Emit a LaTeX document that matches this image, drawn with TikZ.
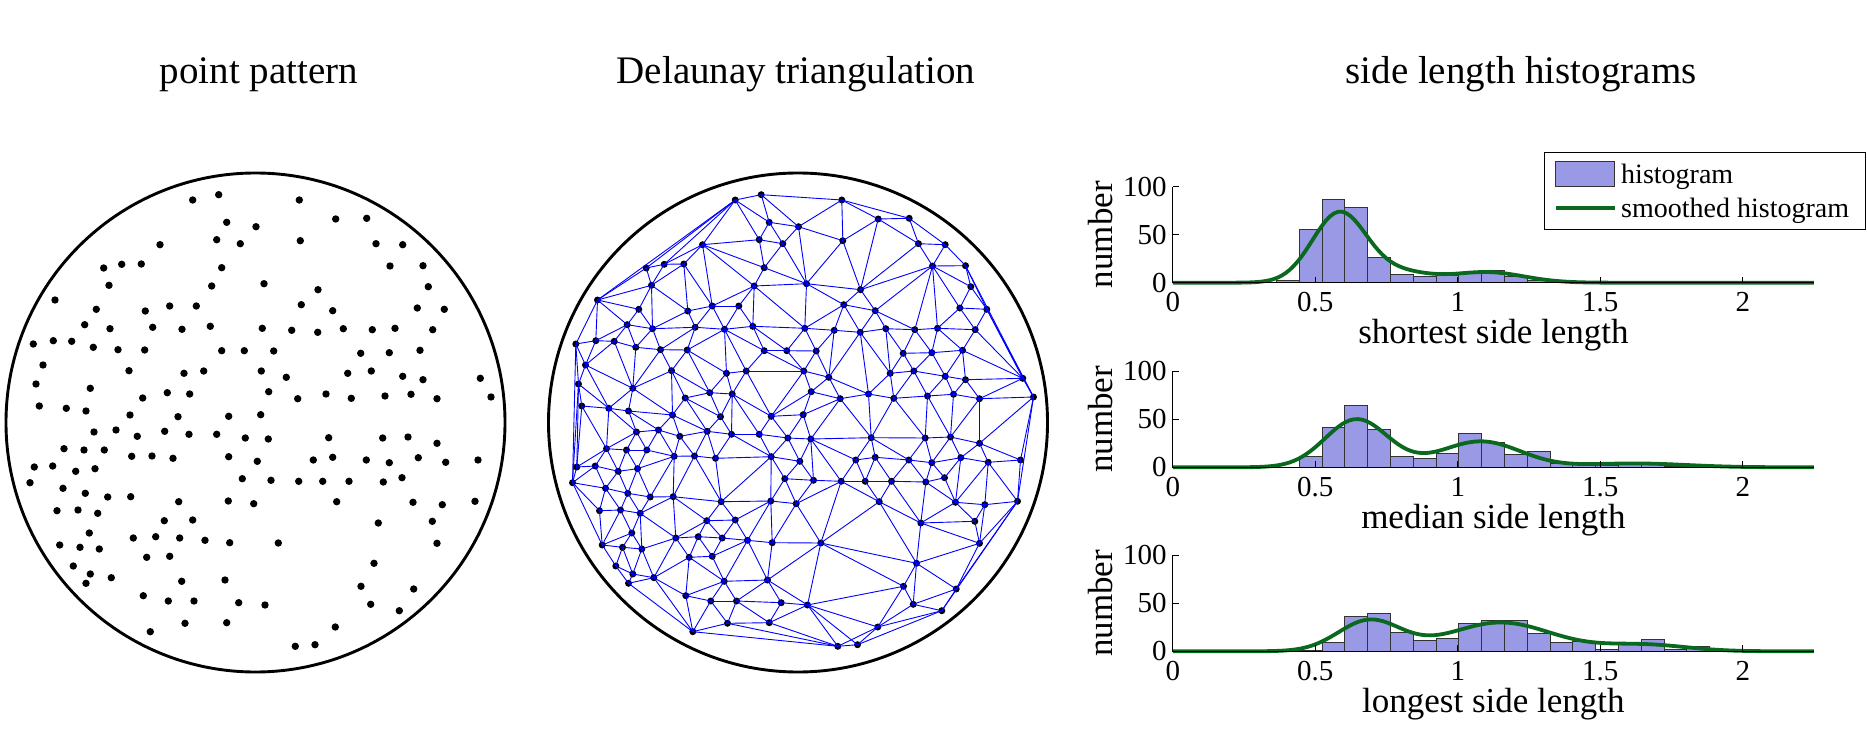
\documentclass[tikz,border=0pt]{standalone}
\usepackage{fontspec}
\setmainfont{Liberation Serif}

\definecolor{barfill}{RGB}{153,153,230}
\definecolor{curvegreen}{RGB}{10,105,30}
\definecolor{edgeblue}{RGB}{0,0,255}

% point pattern, image coordinates (left disc)
\def\pointlist{192.7/200, 218.7/194.7, 299.3/200, 226.7/222.3, 256/226.7, 335.7/219,
 366.7/218.3, 216.7/239.7, 240.3/243.7, 300.3/240.7, 376/243.7, 402.7/244.7, 160/244.7,
 103.7/268, 121.7/264.3, 141.3/264, 221.7/267.7, 390/266, 423/265.7, 109/285.3, 211.7/286,
 264/283.7, 318/289.7, 428.3/286.7, 55/300, 96.3/309.3, 145.3/311, 169.7/306, 196.3/306,
 301.3/304.7, 332.7/310.7, 417.3/308, 84.7/324.7, 110/328.7, 152.7/327.3, 182/329.3,
 210.3/326.3, 262.3/328.3, 291.7/330.3, 317.7/332.3, 343.3/328.7, 372.3/329.7, 395/328.3,
 432.7/329.7, 33.3/344, 53.3/340.7, 71.7/341.3, 93.3/347.3, 118/349.7, 144.7/350,
 221.7/350.7, 244.3/350.7, 273.7/351, 360.7/353.3, 389.3/352.7, 420/350.3,
 43/365, 129/370.7, 184/373.3, 203.7/371, 261.3/371, 286.3/377.3, 347.7/373.3, 371.3/371,
 402.7/376.3, 423/379.7, 36/384, 90.3/388.3, 142.7/398, 167.3/392.7, 189.7/394, 268.7/391.7,
 297.7/398.7, 326/394, 351.3/398.3, 385/396, 411/394.3, 437/398.7, 39.3/406, 66.3/408.3,
 86/411, 130/415, 178/416.7, 228.7/416.3, 260.7/414.7, 94/432, 116/430, 137.3/436.3,
 164.7/431.3, 189/434.3, 216.7/434.3, 245.3/438, 268.3/439, 328.7/437.7, 382.7/438, 408/437,
 437/443.3, 64/448.7, 84/450, 104.3/450, 131.7/456.3, 152/456, 173/458.3, 228.7/456.7,
 257.3/461.3, 313.3/460, 332.7/457.3, 366.3/460, 389.3/462.7, 418.3/457.7, 34.3/467,
 52.7/466, 75.7/471.3, 95/468.7, 30/482.7, 63/488.3, 85.3/493.3, 107.7/497, 130.7/496.7,
 178.7/501.7, 228.3/501, 253.7/503.7, 242.3/478.7, 271/480.3, 298.7/481.3, 322.7/481.3,
 349/481.3, 383.3/482, 402/477.7, 336.7/501.7, 413/502.3, 442.3/504.7, 57/510.7, 78/510,
 97.7/513.3, 164.3/520.7, 192.7/520, 378.3/523, 432.3/521.3, 89.3/533, 133.3/538,
 155.7/536.7, 179.7/538, 205/540.3, 229.7/542.7, 278.3/543, 437/543.3, 59.7/545, 80/547.3,
 99.3/549, 146.7/557.3, 169.7/556.3, 374/563.3, 73.3/566,
 444.3/309.3, 480.3/378.3, 491/397, 445.7/462.3, 478/460, 475/501.3,
 90.3/574, 86/583.3, 111.3/577.7, 181.7/581.3, 225/580, 361/586.3, 413.7/589, 143.3/595.7,
 168.3/601, 194/601, 238.7/602.7, 265/605, 370.7/604.3, 399.3/610.7, 185/623.3, 226.7/622.7,
 150.3/631.7, 335.3/627, 295.3/646.3, 315/644.7}

% Delaunay edges: empty-circle test on every candidate pair
\ExplSyntaxOn
\intarray_new:Nn \g_dt_x_intarray { 200 }
\intarray_new:Nn \g_dt_y_intarray { 200 }
\intarray_new:Nn \g_dt_b_intarray { 200 }
\int_new:N \g_dt_n_int
\clist_new:N \l_dt_pts_clist
\tl_new:N \g_dt_edges_tl
\bool_new:N \l_dt_fail_bool
\int_new:N \l_dt_ux_int \int_new:N \l_dt_uy_int \int_new:N \l_dt_d_int
\int_new:N \l_dt_ax_int \int_new:N \l_dt_ay_int
\int_new:N \l_dt_bx_int \int_new:N \l_dt_by_int
\int_new:N \l_dt_cr_int \int_new:N \l_dt_dot_int \int_new:N \l_dt_t_int
\int_new:N \l_dt_minl_int \int_new:N \l_dt_maxr_int

\cs_new_protected:Npn \dt_store:w #1/#2 \q_stop
 {
  \int_gincr:N \g_dt_n_int
  \intarray_gset:Nnn \g_dt_x_intarray { \g_dt_n_int } { \fp_eval:n { round(10*(#1)) } }
  \intarray_gset:Nnn \g_dt_y_intarray { \g_dt_n_int } { \fp_eval:n { round(10*(#2)) } }
  \intarray_gset:Nnn \g_dt_b_intarray { \g_dt_n_int }
   { \fp_compare:nNnTF { (#1-255.5)^2 + (#2-422.5)^2 } > { 25600 } { 1 } { 0 } }
 }
\cs_new_protected:Npn \dt_load:
 {
  \exp_args:NNo \clist_set:Nn \l_dt_pts_clist { \pointlist }
  \clist_map_inline:Nn \l_dt_pts_clist { \dt_store:w ##1 \q_stop }
 }
\cs_new:Npn \dt_x:n #1 { \intarray_item:Nn \g_dt_x_intarray {#1} }
\cs_new:Npn \dt_y:n #1 { \intarray_item:Nn \g_dt_y_intarray {#1} }

\cs_new_protected:Npn \dt_test:nnn #1#2#3
 {
  \int_set:Nn \l_dt_ax_int { \dt_x:n {#3} - \dt_x:n {#1} }
  \int_set:Nn \l_dt_ay_int { \dt_y:n {#3} - \dt_y:n {#1} }
  \int_set:Nn \l_dt_bx_int { \dt_x:n {#3} - \dt_x:n {#2} }
  \int_set:Nn \l_dt_by_int { \dt_y:n {#3} - \dt_y:n {#2} }
  \int_set:Nn \l_dt_cr_int { \l_dt_ux_int * \l_dt_ay_int - \l_dt_uy_int * \l_dt_ax_int }
  \int_set:Nn \l_dt_dot_int { \l_dt_ax_int * \l_dt_bx_int + \l_dt_ay_int * \l_dt_by_int }
  \int_compare:nNnTF \l_dt_cr_int > { 1 }
   {
    \int_set:Nn \l_dt_t_int { \l_dt_dot_int * 100 / ( 2 * \l_dt_cr_int ) }
    \int_compare:nNnT \l_dt_t_int < \l_dt_minl_int
     { \int_set_eq:NN \l_dt_minl_int \l_dt_t_int }
   }
   {
    \int_compare:nNnTF \l_dt_cr_int < { -1 }
     {
      \int_set:Nn \l_dt_t_int { \l_dt_dot_int * 100 / ( 2 * \l_dt_cr_int ) }
      \int_compare:nNnT \l_dt_t_int > \l_dt_maxr_int
       { \int_set_eq:NN \l_dt_maxr_int \l_dt_t_int }
     }
     { \int_compare:nNnT \l_dt_dot_int < { 0 } { \bool_set_true:N \l_dt_fail_bool } }
   }
  \int_compare:nNnT \l_dt_maxr_int > \l_dt_minl_int { \bool_set_true:N \l_dt_fail_bool }
 }
\cs_new_protected:Npn \dt_check:nn #1#2
 {
  \bool_set_false:N \l_dt_fail_bool
  \int_set:Nn \l_dt_minl_int { 2147483647 }
  \int_set:Nn \l_dt_maxr_int { -2147483647 }
  \int_step_inline:nn { \g_dt_n_int }
   {
    \bool_if:NF \l_dt_fail_bool
     {
      \bool_lazy_or:nnF { \int_compare_p:nNn {##1} = {#1} } { \int_compare_p:nNn {##1} = {#2} }
       { \dt_test:nnn {#1} {#2} {##1} }
     }
   }
  \bool_if:NF \l_dt_fail_bool
   { \tl_gput_right:Nn \g_dt_edges_tl { \draw [tri~edge] (m#1) -- (m#2); } }
 }
\cs_new_protected:Npn \dt_pair:nn #1#2
 {
  \int_set:Nn \l_dt_ux_int { \dt_x:n {#2} - \dt_x:n {#1} }
  \int_set:Nn \l_dt_uy_int { \dt_y:n {#2} - \dt_y:n {#1} }
  \int_set:Nn \l_dt_d_int { \l_dt_ux_int * \l_dt_ux_int + \l_dt_uy_int * \l_dt_uy_int }
  \bool_lazy_or:nnT
   { \int_compare_p:nNn \l_dt_d_int < { 2250000 } }
   {
    \bool_lazy_and_p:nn
     { \int_compare_p:nNn \l_dt_d_int < { 4840000 } }
     { \int_compare_p:nNn { \intarray_item:Nn \g_dt_b_intarray {#1}
         + \intarray_item:Nn \g_dt_b_intarray {#2} } = { 2 } }
   }
   { \dt_check:nn {#1} {#2} }
 }
\cs_new_protected:Npn \dt_row:n #1
 { \int_step_inline:nnn { #1 + 1 } { \g_dt_n_int } { \dt_pair:nn {#1} {##1} } }
\cs_new_protected:Npn \dt_compute:
 { \int_step_inline:nn { \g_dt_n_int - 1 } { \dt_row:n {##1} } }
\NewDocumentCommand \computedelaunay { } { \dt_load: \dt_compute: }
\NewDocumentCommand \drawdelaunay { } { \tl_use:N \g_dt_edges_tl }
\ExplSyntaxOff

% one histogram panel: axis y, first bin edge, counts, smoothed curve, label
\newcommand{\histpanel}[5]{%
 \begin{scope}[shift={(1172.8,#1)}, x=285pt, y=0.96pt]
  \foreach \h [count=\i from 0] in {#3}
   \draw[hist bar] ({#2+0.08*\i},0) rectangle ({#2+0.08*(\i+1)},\h);
  \draw[smooth hist] plot[domain=0:2.25, samples=160] (\x,{#4});
  \draw[axis line] (0,100) -- (0,0) -- (2.25,0);
  \foreach \t in {0,50,100} {
   \draw[axis line] (0,\t) -- ++(6pt,0);
   \node[tick label, anchor=east] at ([xshift=-6pt]0,\t) {\t};
  }
  \foreach \t in {0.5,1,1.5,2}
   \draw[axis line] (\t,0) -- ++(0,6pt);
  \foreach \t in {0,0.5,1,1.5,2}
   \node[tick label, anchor=base] at ([yshift=-29pt]\t,0) {\t};
  \node[axis label, rotate=90, anchor=base] at ([xshift=-60pt]0,50) {number};
  \node[axis label, anchor=base] at ([yshift=-61pt]1.125,0) {#5};
 \end{scope}}

\begin{document}
\begin{tikzpicture}[x=1pt, y=-1pt,
  declare function={g(\m,\s,\v)=exp(max(-30,-(\v-\m)*(\v-\m)/(2*\s*\s)));},
  panel title/.style={anchor=base, inner sep=0pt, font=\fontsize{39}{44}\selectfont},
  disc/.style={draw=black, line width=2.9pt},
  pattern dot/.style={fill=black},
  tri edge/.style={draw=edgeblue, line width=0.9pt},
  hist bar/.style={fill=barfill, draw=black!80, line width=0.8pt},
  smooth hist/.style={draw=curvegreen, line width=3.8pt},
  axis line/.style={draw=black, line width=1pt},
  tick label/.style={inner sep=0pt, font=\fontsize{29}{31}\selectfont},
  axis label/.style={inner sep=0pt, font=\fontsize{35}{40}\selectfont},
  legend text/.style={anchor=base west, inner sep=0pt, font=\fontsize{28}{30}\selectfont}]
\useasboundingbox (0,0) rectangle (1867,743);
\computedelaunay

% titles
\node[panel title] (t1) at (259,83.3) {point pattern};
\node[panel title] (t2) at (796,83.3) {Delaunay triangulation};
\node[panel title] (t3) at (1521,83.3) {side length histograms};

% point pattern
\draw[disc] (255.5,422.5) circle[radius=249.5];
\foreach \x/\y in \pointlist
 \fill[pattern dot] (\x,\y) circle[radius=3.7];

% Delaunay triangulation
\draw[disc] (798,422.5) circle[radius=249.5];
\foreach \x/\y [count=\i] in \pointlist {
 \coordinate (m\i) at (\x+542.5,\y);
 \fill[pattern dot] (m\i) circle[radius=3.5];
}
\drawdelaunay

% side length histograms
\histpanel{282.7}{0.3633}{2.4,55.5,86.8,78.5,26.4,8.7,7,8,10,12.8,7,2.4}
 {73*g(0.585,0.095,\x)+10*g(0.80,0.10,\x)+11*g(1.10,0.13,\x)}{shortest side length}
\histpanel{467.3}{0.4433}{11,42,64,40,11.7,9.3,14.5,34.8,26.2,13.8,16.9,4,3.4,1.7,3.4,4,1.4,2.4,0.7}
 {50*g(0.645,0.11,\x)+27*g(1.08,0.14,\x)+4*g(1.62,0.18,\x)}{median side length}
\histpanel{651.3}{0.4433}{1.4,9.4,36.5,39.6,19.8,11.5,13.2,29.2,32.3,32.3,18.8,9.4,10,2.1,7.3,12.5,1.7,5.2,2.4,0.3}
 {32*g(0.69,0.11,\x)+30*g(1.15,0.18,\x)+7*g(1.65,0.15,\x)}{longest side length}

% legend
\draw[fill=white, line width=1pt] (1544,153) rectangle (1865,230);
\draw[hist bar] (1555.7,161.3) rectangle (1614.8,186.7);
\node[legend text] (l1) at (1621,183.3) {histogram};
\coordinate (g1) at (1555.7,208.3);
\coordinate (g2) at (1614.8,208.3);
\draw[smooth hist] (g1) -- (g2);
\node[legend text] (l2) at (1621,217.3) {smoothed histogram};
\end{tikzpicture}
\end{document}
